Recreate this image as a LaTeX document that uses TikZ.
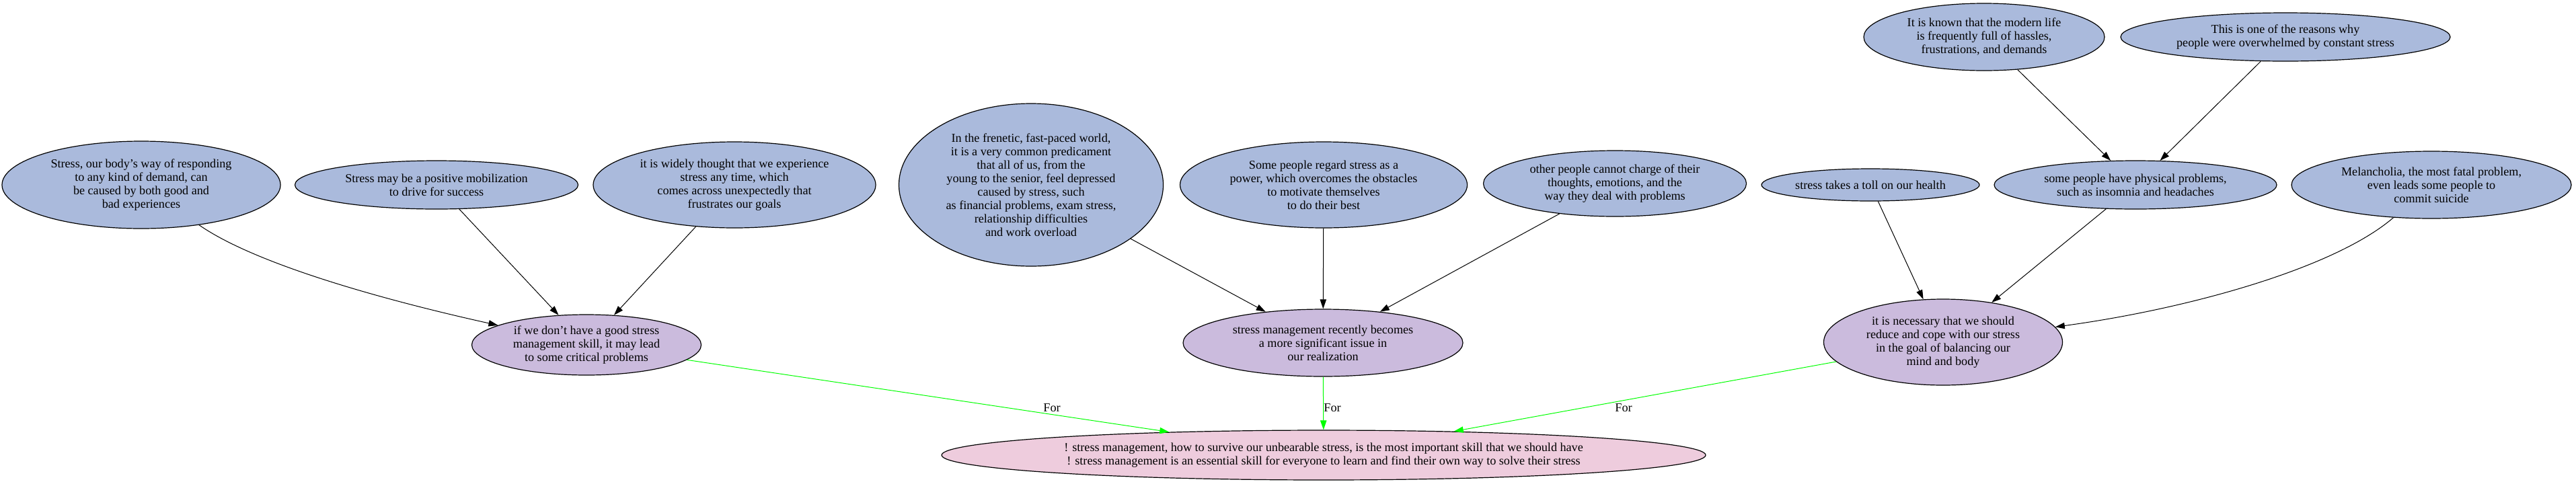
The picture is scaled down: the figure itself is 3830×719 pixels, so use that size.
\documentclass[tikz,border=0pt]{standalone}
\usepackage{fontspec}
\setmainfont{Liberation Serif}
\usepackage{tikz}
\usetikzlibrary{arrows.meta, shapes.geometric}

\definecolor{reasonblue}{RGB}{170,186,220}
\definecolor{claimlilac}{RGB}{203,187,221}
\definecolor{thesispink}{RGB}{238,204,221}
\newcommand{\pxu}{0.75pt}

\begin{document}
\begin{tikzpicture}[x=0.75pt, y=-0.75pt,
    every node/.style={font=\fontsize{13.6}{15}\selectfont, align=center},
    reason/.style={ellipse, draw, line width=0.9pt, fill=reasonblue, inner sep=0pt},
    claim/.style={reason, fill=claimlilac},
    thesis/.style={reason, fill=thesispink},
    dims/.style 2 args={minimum width=#1*\pxu, minimum height=#2*\pxu},
    arr/.style={-{Triangle[length=10.5pt, width=7pt]}, line width=0.75pt},
    forarr/.style={arr, green}]
    \useasboundingbox (0,0) rectangle (3830,719);

    % top row: reasons
    \node[reason, dims={414}{130}] (nbody) at (210,275) {Stress, our body's way of responding\\ to any kind of demand, can\\ be caused by both good and\\ bad experiences};
    \node[reason, dims={421}{72}] (nmob) at (649,275) {Stress may be a positive mobilization\\ to drive for success};
    \node[reason, dims={420}{128}] (nwide) at (1092,275) {it is widely thought that we experience\\ stress any time, which\\ comes across unexpectedly that\\ frustrates our goals};
    \node[reason, dims={393}{242}] (nfren) at (1533,275) {In the frenetic, fast-paced world,\\ it is a very common predicament\\ that all of us, from the\\ young to the senior, feel depressed\\ caused by stress, such\\ as financial problems, exam stress,\\ relationship difficulties\\ and work overload};
    \node[reason, dims={427}{128}] (npow) at (1968,275) {Some people regard stress as a\\ power, which overcomes the obstacles\\ to motivate themselves\\ to do their best};
    \node[reason, dims={391}{98}] (noth) at (2401,273) {other people cannot charge of their\\ thoughts, emotions, and the\\ way they deal with problems};
    \node[reason, dims={324}{48}] (ntoll) at (2781,275) {stress takes a toll on our health};
    \node[reason, dims={420}{72}] (nphys) at (3175,275) {some people have physical problems,\\ such as insomnia and headaches};
    \node[reason, dims={416}{100}] (nmel) at (3615,275) {Melancholia, the most fatal problem,\\ even leads some people to\\ commit suicide};
    \node[reason, dims={358}{100}] (nmod) at (2950,55) {It is known that the modern life\\ is frequently full of hassles,\\ frustrations, and demands};
    \node[reason, dims={490}{72}] (nwhy) at (3398,55) {This is one of the reasons why\\ people were overwhelmed by constant stress};

    % middle row: claims
    \node[claim, dims={341}{90}] (ncrit) at (872,513) {if we don't have a good stress\\ management skill, it may lead\\ to some critical problems};
    \node[claim, dims={416}{100}] (nsig) at (1967,510) {stress management recently becomes\\ a more significant issue in\\ our realization};
    \node[claim, dims={355}{128}] (nbal) at (2889,509) {it is necessary that we should\\ reduce and cope with our stress\\ in the goal of balancing our\\ mind and body};

    % bottom: thesis
    \node[thesis, dims={1136}{74}] (nskill) at (1968,677) {! stress management, how to survive our unbearable stress, is the most important skill that we should have\\ ! stress management is an essential skill for everyone to learn and find their own way to solve their stress};

    \draw[arr] (nbody) .. controls (390,400) and (610,455) .. (ncrit);
    \draw[arr] (nmob) -- (ncrit);
    \draw[arr] (nwide) -- (ncrit);
    \draw[arr] (nfren) -- (nsig);
    \draw[arr] (npow) -- (nsig);
    \draw[arr] (noth) -- (nsig);
    \draw[arr] (nmod) -- (nphys);
    \draw[arr] (nwhy) -- (nphys);
    \draw[arr] (ntoll) -- (nbal);
    \draw[arr] (nphys) -- (nbal);
    \draw[arr] (nmel) .. controls (3470,400) and (3250,460) .. (nbal);

    \draw[forarr] (ncrit) -- (nskill);
    \draw[forarr] (nsig) -- (nskill);
    \draw[forarr] (nbal) -- (nskill);
    \node (nf1) at (1564,607) {For};
    \node (nf2) at (1981,607) {For};
    \node (nf3) at (2414,607) {For};
\end{tikzpicture}
\end{document}
